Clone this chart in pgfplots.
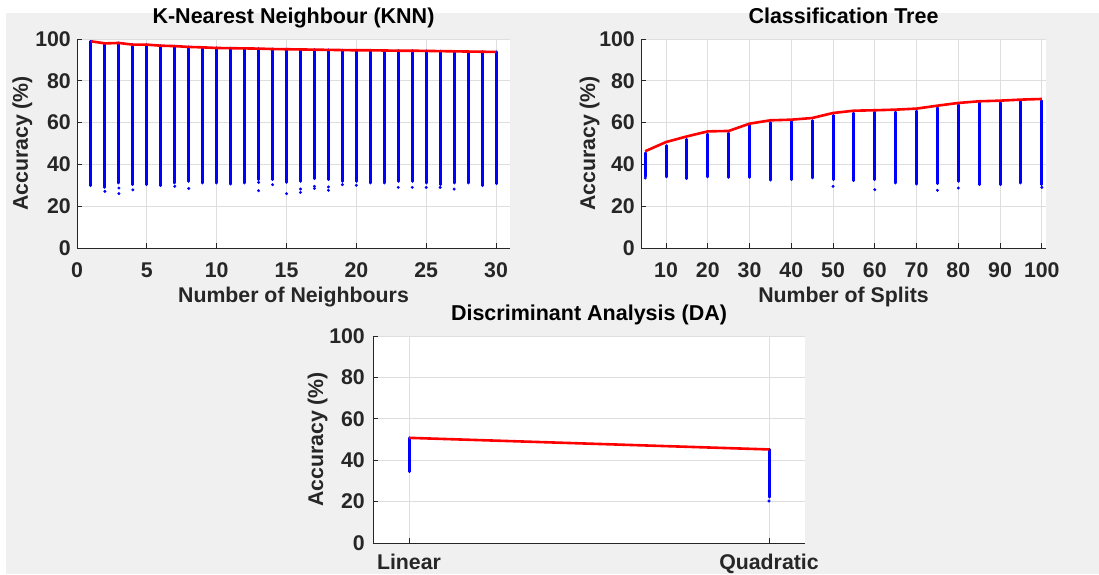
\documentclass[border=0pt]{standalone}
\usepackage{fontspec}
\setmainfont{Liberation Sans}
\usepackage{pgfplots}
\usepackage{pgfplotstable}
\pgfplotsset{compat=1.18}
\definecolor{figbg}{HTML}{F0F0F0}
\definecolor{axcol}{HTML}{262626}
\definecolor{gridcol}{HTML}{DEDEDE}

% KNN: number of neighbours, max accuracy, min of dense column
\pgfplotstableread{
x hi lo
1 98.9 29.8
2 97.9 29.0
3 98.1 31.1
4 97.3 30.3
5 97.3 30.3
6 96.8 29.8
7 96.6 31.1
8 96.2 31.9
9 96.0 31.1
10 95.7 31.1
11 95.6 30.6
12 95.5 31.1
13 95.4 32.7
14 95.2 32.7
15 95.1 31.4
16 95.0 31.9
17 94.9 33.2
18 94.8 32.7
19 94.7 31.9
20 94.6 31.9
21 94.6 31.1
22 94.5 31.1
23 94.4 31.9
24 94.4 31.9
25 94.3 31.1
26 94.2 30.3
27 94.1 31.1
28 94.0 31.1
29 93.9 29.8
30 93.8 30.8
}\knn

\pgfplotstableread{
x y
2 27.1
3 28.7
3 26.0
4 27.8
7 29.5
8 28.5
13 31.4
13 27.4
14 30.3
15 26.0
16 28.2
16 26.6
17 29.5
17 28.5
18 29.2
18 27.6
19 30.3
20 30.0
23 29.0
24 29.0
25 29.0
26 29.0
27 28.2
}\knnout

% Classification tree: number of splits, max accuracy, top of dots, min
\pgfplotstableread{
x hi top lo
5 46.3 45.5 34.3
10 50.7 49.0 34.0
15 53.4 52.0 33.2
20 55.8 54.5 34.0
25 56.0 55.0 33.8
30 59.5 58.5 33.8
35 61.1 60.0 32.5
40 61.4 60.5 32.7
45 62.2 61.0 33.5
50 64.6 63.5 32.7
55 65.7 64.5 32.2
60 65.9 65.0 32.7
65 66.2 65.0 31.1
70 66.7 65.5 30.6
75 68.1 67.0 30.8
80 69.4 68.5 31.9
85 70.2 69.5 30.3
90 70.5 69.5 30.3
95 71.0 70.0 31.1
100 71.3 70.5 30.3
}\tree

\pgfplotstableread{
x y
5 33.5
50 29.5
60 27.9
75 27.6
80 28.7
100 29.0
}\treeout

% Discriminant analysis: 1 = Linear, 2 = Quadratic
\pgfplotstableread{
x hi lo
1 50.8 34.5
2 45.2 22.2
}\da

\pgfplotstableread{
x y
2 20.3
}\daout

\pgfplotsset{
  matax/.style={
    scale only axis,
    axis background/.style={fill=white},
    axis x line*=bottom, axis y line*=left,
    axis line style={-, color=axcol, line width=0.8pt},
    ymin=0, ymax=100, ytick={0,20,40,60,80,100},
    grid=major, major grid style={color=gridcol, line width=0.7pt},
    tick align=inside, major tick length=5pt,
    tick style={color=axcol, line width=0.8pt},
    /pgf/number format/assume math mode=true,
    tick label style={font=\fontsize{21.3}{25}\selectfont\bfseries, color=axcol},
    xticklabel style={anchor=base, inner sep=0pt, yshift=-29pt},
    yticklabel style={anchor=east, inner sep=0pt, xshift=-6pt},
    label style={font=\fontsize{21.3}{25}\selectfont\bfseries, color=axcol},
    title style={font=\fontsize{21.5}{25}\selectfont\bfseries, color=black, anchor=base},
  },
  colbar/.style={draw=none, mark=none, forget plot,
    error bars/.cd, y dir=minus, y explicit, error mark=none,
    error bar style={blue, line width=3pt, line cap=round}},
  outdots/.style={only marks, mark=*, mark size=1.3pt, blue, forget plot},
  maxline/.style={red, line width=2.6pt, mark=none},
}

\begin{document}
\begin{tikzpicture}
\fill[white] (0,0) rectangle (1099pt,574pt);
\fill[figbg] (6pt,0) rectangle (1099pt,561pt);

% KNN
\begin{axis}[matax, at={(77pt,326pt)}, anchor=south west,
  width=433pt, height=209pt,
  xmin=0, xmax=31, xtick={0,5,10,15,20,25,30},
  title={K-Nearest Neighbour (KNN)},
  title style={at={(axis description cs:0.5,1.0431)}},
  xlabel={Number of Neighbours},
  xlabel style={at={(axis description cs:0.5,-0.2584)}, anchor=base},
  ylabel={Accuracy (\%)},
  ylabel style={at={(axis description cs:-0.1132,0.5)}, anchor=base},
]
\addplot[colbar] table[x=x, y=hi, y error expr=\thisrow{hi}-\thisrow{lo}] {\knn};
\addplot[outdots] table[x=x, y=y] {\knnout};
\addplot[maxline] table[x=x, y=hi] {\knn};
\end{axis}

% Classification tree
\begin{axis}[matax, at={(641pt,326pt)}, anchor=south west,
  width=405pt, height=209pt,
  xmin=4, xmax=101, xtick={10,20,30,40,50,60,70,80,90,100},
  title={Classification Tree},
  title style={at={(axis description cs:0.5,1.0431)}},
  xlabel={Number of Splits},
  xlabel style={at={(axis description cs:0.5,-0.2584)}, anchor=base},
  ylabel={Accuracy (\%)},
  ylabel style={at={(axis description cs:-0.1136,0.5)}, anchor=base},
]
\addplot[colbar] table[x=x, y=top, y error expr=\thisrow{top}-\thisrow{lo}] {\tree};
\addplot[outdots] table[x=x, y=y] {\treeout};
\addplot[maxline] table[x=x, y=hi] {\tree};
\end{axis}

% Discriminant analysis
\begin{axis}[matax, at={(373pt,31pt)}, anchor=south west,
  width=432pt, height=207pt,
  xmin=0.9, xmax=2.1, xtick={1,2}, xticklabels={Linear,Quadratic},
  xticklabel style={yshift=2.5pt},
  yticklabel style={xshift=-2pt},
  title={Discriminant Analysis (DA)},
  title style={at={(axis description cs:0.5,1.045)}},
  ylabel={Accuracy (\%)},
  ylabel style={at={(axis description cs:-0.1157,0.5)}, anchor=base},
]
\addplot[colbar] table[x=x, y=hi, y error expr=\thisrow{hi}-\thisrow{lo}] {\da};
\addplot[outdots] table[x=x, y=y] {\daout};
\addplot[maxline] table[x=x, y=hi] {\da};
\end{axis}

\pgfresetboundingbox
\useasboundingbox (0,0) rectangle (1099pt,574pt);
\end{tikzpicture}
\end{document}
